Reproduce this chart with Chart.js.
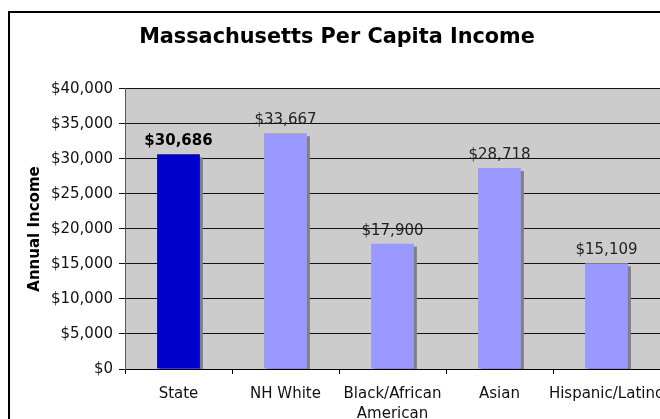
<!DOCTYPE html>
<html>
<head>
<meta charset="utf-8">
<script src="https://cdn.jsdelivr.net/npm/chart.js@4"></script>
<style>
  body { margin: 0; overflow: hidden; background: #fff; }
  #wrap { position: relative; width: 660px; height: 419px; overflow: hidden; }
  #frame { position: absolute; left: 8px; top: 11px; width: 800px; height: 600px;
           border-left: 2px solid #000; border-top: 2px solid #000; pointer-events: none; }
  canvas { position: absolute; left: 0; top: 0; }
</style>
</head>
<body>
<div id="wrap">
  <canvas id="income" width="720" height="419"></canvas>
  <div id="frame"></div>
</div>
<script>
// data
const groups = ['State', 'NH White', ['Black/African', 'American'], 'Asian', 'Hispanic/Latino'];
const income = [30686, 33667, 17900, 28718, 15109];
const barColors = ['#0000cc', '#9999ff', '#9999ff', '#9999ff', '#9999ff'];
const yTicks = [0, 5000, 10000, 15000, 20000, 25000, 30000, 35000, 40000];

const FONT = "'DejaVu Sans', Verdana, sans-serif";

const money = v => '$' + v.toLocaleString('en-US');

// grey plot area like the old Excel charts
const plotBg = {
  id: 'plotBg',
  beforeDraw(chart) {
    const { ctx, chartArea: a } = chart;
    ctx.save();
    ctx.fillStyle = '#cccccc';
    ctx.fillRect(a.left, a.top, a.right - a.left, a.bottom - a.top);
    ctx.restore();
  }
};

// hard drop shadow behind the bars
const barShadow = {
  id: 'barShadow',
  beforeDatasetsDraw(chart) {
    const ctx = chart.ctx;
    ctx.save();
    ctx.shadowColor = '#808080';
    ctx.shadowOffsetX = 3;
    ctx.shadowOffsetY = 3;
    ctx.shadowBlur = 0;
  },
  afterDatasetsDraw(chart) {
    chart.ctx.restore();
  }
};

// value labels above each bar
const valueLabels = {
  id: 'valueLabels',
  afterDatasetsDraw(chart) {
    const ctx = chart.ctx;
    const meta = chart.getDatasetMeta(0);
    ctx.save();
    ctx.textAlign = 'center';
    ctx.textBaseline = 'alphabetic';
    meta.data.forEach((bar, i) => {
      ctx.font = (i === 0 ? 'bold ' : '') + '15px ' + FONT;
      ctx.fillStyle = i === 0 ? '#000' : '#222';
      ctx.fillText(money(income[i]), bar.x, bar.y - 9);
    });
    ctx.restore();
  }
};

new Chart(document.getElementById('income').getContext('2d'), {
  type: 'bar',
  data: {
    labels: groups,
    datasets: [{
      data: income,
      backgroundColor: barColors,
      borderWidth: 0,
      barPercentage: 0.4,
      categoryPercentage: 1.0,
    }],
  },
  options: {
    responsive: false,
    animation: false,
    events: [],
    layout: { padding: { left: 14, right: 60, top: 0, bottom: 0 } },
    plugins: {
      legend: { display: false },
      tooltip: { enabled: false },
      title: {
        display: true,
        text: 'Massachusetts Per Capita Income',
        color: '#000',
        font: { family: FONT, size: 20.8, weight: 'bold' },
        padding: { top: 25, bottom: 39 },
      },
    },
    scales: {
      x: {
        afterFit(scale) { scale.height = 50; },
        grid: { offset: true, drawOnChartArea: false, tickLength: 5, color: '#000' },
        border: { color: '#000', width: 1 },
        ticks: { color: '#111', padding: 10, maxRotation: 0, autoSkip: false,
                 font: { family: FONT, size: 15, lineHeight: 1.33 } },
      },
      y: {
        min: 0,
        max: 40000,
        afterFit(scale) { scale.width = 111; },
        afterBuildTicks(scale) { scale.ticks = yTicks.map(v => ({ value: v })); },
        grid: { color: '#111', tickLength: 6 },
        border: { color: '#555', width: 1 },
        ticks: { color: '#111', padding: 6, callback: v => money(v),
                 font: { family: FONT, size: 15 } },
        title: {
          display: true,
          text: 'Annual Income',
          color: '#000',
          padding: { top: 12, bottom: 0 },
          font: { family: FONT, size: 15, weight: 'bold' },
        },
      },
    },
  },
  plugins: [plotBg, barShadow, valueLabels],
});
</script>
</body>
</html>
